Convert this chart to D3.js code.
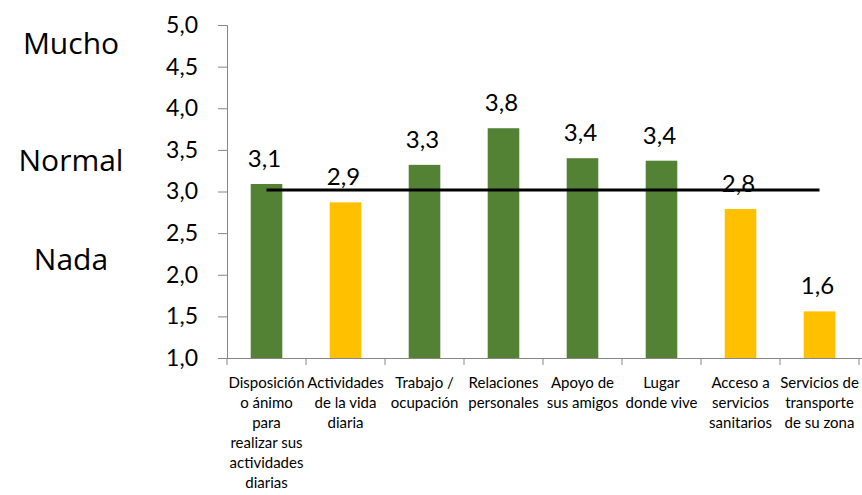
<!DOCTYPE html>
<html><head><meta charset="utf-8">
<script src="https://cdn.jsdelivr.net/npm/d3@7"></script>
<style>body{margin:0;background:#fff}svg{display:block}text{font-family:Lato,"Open Sans",sans-serif;fill:#000}</style>
</head><body>
<svg id="c" width="862" height="495"></svg>
<script>
const categories = [
  ["Disposición","o ánimo","para","realizar sus","actividades","diarias"],
  ["Actividades","de la vida","diaria"],
  ["Trabajo /","ocupación"],
  ["Relaciones","personales"],
  ["Apoyo de","sus amigos"],
  ["Lugar","donde vive"],
  ["Acceso a","servicios","sanitarios"],
  ["Servicios de","transporte","de su zona"]
];
const values = [3.09, 2.87, 3.32, 3.76, 3.40, 3.37, 2.79, 1.56];
const barColors = ["#548235","#FFC000","#548235","#548235","#548235","#548235","#FFC000","#FFC000"];
const yTicks = [1.0,1.5,2.0,2.5,3.0,3.5,4.0,4.5,5.0];
const refValue = 3.0;
const sideLabels = ["Mucho","Normal","Nada"];
const sideLabelLevels = [4.65, 3.25, 2.06];

(function(){
const svg = d3.select("#c");
const mLeft = 227, mRight = 859, mTop = 25, mBottom = 358;
const x = d3.scaleBand().domain(d3.range(values.length)).range([mLeft, mRight]).paddingInner(0.6).paddingOuter(0.3);
const y = d3.scaleLinear().domain([1,5]).range([mBottom, mTop]);
const fmt = v => v.toFixed(1).replace(".", ",");

// y axis
const ya = svg.append("g").attr("transform",`translate(${mLeft},0)`)
  .call(d3.axisLeft(y).tickValues(yTicks).tickFormat(fmt).tickSize(9).tickPadding(20));
ya.select(".domain").attr("stroke","#868686");
ya.selectAll(".tick line").attr("stroke","#868686");
ya.selectAll(".tick text").style("font-size","23px").attr("font-family","Lato");

// x axis baseline and band ticks
const xa = svg.append("g");
xa.append("line").attr("x1",mLeft).attr("x2",mRight+3).attr("y1",mBottom+0.5).attr("y2",mBottom+0.5).attr("stroke","#868686");
xa.selectAll("line.bt").data(d3.range(values.length+1)).join("line")
  .attr("class","bt")
  .attr("x1", i => mLeft + i*(mRight-mLeft)/values.length)
  .attr("x2", i => mLeft + i*(mRight-mLeft)/values.length)
  .attr("y1", mBottom).attr("y2", mBottom+7).attr("stroke","#868686");

// bars
svg.selectAll("rect.bar").data(values).join("rect")
  .attr("class","bar")
  .attr("x",(d,i)=>x(i)).attr("width",x.bandwidth())
  .attr("y",d=>y(d)).attr("height",d=>y(1)-y(d))
  .attr("fill",(d,i)=>barColors[i]);

// reference line
svg.append("line")
  .attr("x1", x(0)+x.bandwidth()/2).attr("x2", x(values.length-1)+x.bandwidth()/2)
  .attr("y1", y(refValue)-1.5).attr("y2", y(refValue)-1.5)
  .attr("stroke","#000").attr("stroke-width",3);

// data labels
svg.selectAll("text.dl").data(values).join("text")
  .attr("class","dl")
  .attr("x",(d,i)=>x(i)+x.bandwidth()/2 - 2).attr("y",d=>y(d)-17)
  .attr("text-anchor","middle").style("font-size","24px")
  .text(fmt);

// category labels
const cl = svg.selectAll("text.cl").data(categories).join("text")
  .attr("class","cl")
  .attr("x",(d,i)=>x(i)+x.bandwidth()/2).attr("y",388)
  .attr("text-anchor","middle").style("font-size","15px");
cl.selectAll("tspan").data(d=>d).join("tspan")
  .attr("x",function(){return d3.select(this.parentNode).attr("x");})
  .attr("dy",(d,i)=>i===0?0:20).text(d=>d);

// side labels
svg.selectAll("text.sl").data(sideLabels).join("text")
  .attr("class","sl")
  .attr("x",71).attr("y",(d,i)=>y(sideLabelLevels[i]))
  .attr("text-anchor","middle").style("font-size","30px").style("font-family","'Open Sans'")
  .text(d=>d);
})();
</script>
</body></html>
